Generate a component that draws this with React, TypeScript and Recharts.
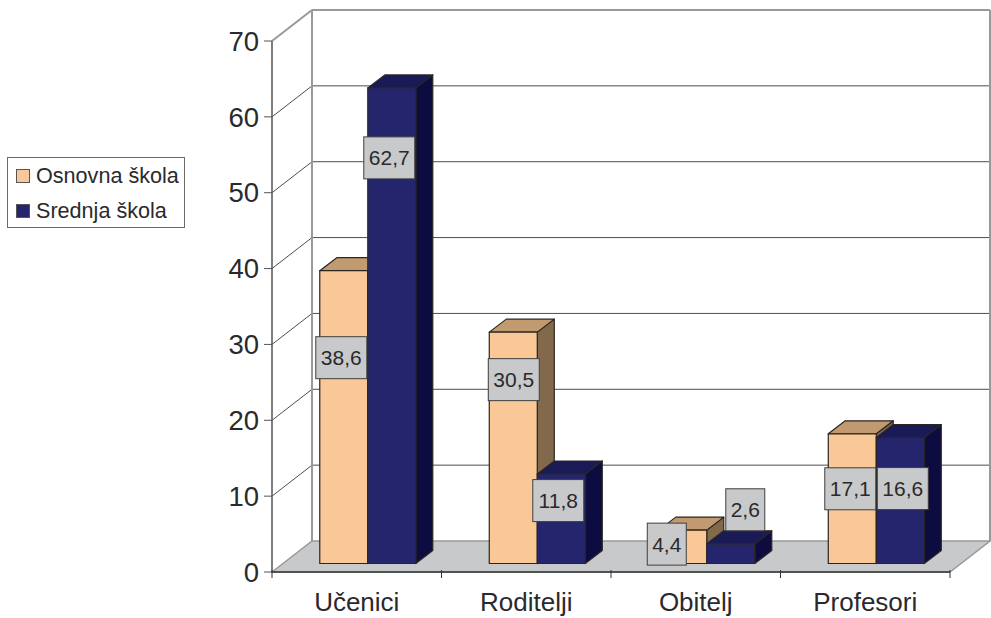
import { Bar, BarChart, CartesianGrid, LabelList, Legend, XAxis, YAxis } from "recharts";

const categories = ["Učenici", "Roditelji", "Obitelj", "Profesori"];
const osnovnaSkola = [38.6, 30.5, 4.4, 17.1];
const srednjaSkola = [62.7, 11.8, 2.6, 16.6];
const valueTicks = [0, 10, 20, 30, 40, 50, 60, 70];

const rows = categories.map((name, i) => ({
  name,
  osnovna: osnovnaSkola[i],
  srednja: srednjaSkola[i],
}));

const WIDTH = 991;
const HEIGHT = 618;
const MARGIN = { top: 41, right: 41, bottom: 0, left: 212 };
const PLOT_WIDTH = WIDTH - MARGIN.left - MARGIN.right - 60;
const FONT = "'Liberation Sans', Arial, sans-serif";
const TEXT = "#2a2a2c";

// depth of the chart box, and where bars stand on the floor
const WALL_DX = 40;
const WALL_DY = -31;
const BAR_DX = 11.5;
const BAR_DY = -8.5;
const SIDE_DX = 17;
const SIDE_DY = -13;

const PEACH = { front: "#f9c896", top: "#c29a6f", side: "#83694c" };
const NAVY = { front: "#25256e", top: "#1a1a56", side: "#0c0c40" };

// hand placed value boxes, measured from the bar's centre and top edge
const osnovnaNudge = [[-2.5, 87], [0.5, 47.5], [-16, 14], [-2, 55]];
const srednjaNudge = [[-2.5, 70], [-3, 26.6], [14.5, -34], [2.5, 51]];

function box3d(colors: typeof PEACH) {
  return (props: any) => {
    const x = props.x + BAR_DX;
    const y = props.y + BAR_DY;
    const { width: w, height: h } = props;
    const line = { stroke: "#2b2622", strokeWidth: 1.2, strokeLinejoin: "round" as const };
    return (
      <g>
        <polygon
          points={`${x + w},${y} ${x + w + SIDE_DX},${y + SIDE_DY} ${x + w + SIDE_DX},${y + h + SIDE_DY} ${x + w},${y + h}`}
          fill={colors.side}
          {...line}
        />
        <polygon
          points={`${x},${y} ${x + SIDE_DX},${y + SIDE_DY} ${x + w + SIDE_DX},${y + SIDE_DY} ${x + w},${y}`}
          fill={colors.top}
          {...line}
        />
        <rect x={x} y={y} width={w} height={h} fill={colors.front} {...line} />
      </g>
    );
  };
}

function valueBox(nudge: number[][]) {
  return (props: any) => {
    const { x, y, width, value, index } = props;
    const text = String(value).replace(".", ",");
    const boxWidth = text.length > 3 ? 51 : 39;
    const cx = x + BAR_DX + width / 2 + nudge[index][0];
    const cy = y + BAR_DY + nudge[index][1];
    return (
      <g>
        <rect
          x={cx - boxWidth / 2}
          y={cy - 21}
          width={boxWidth}
          height={42}
          fill="#c8c9cb"
          stroke="#3f3f3f"
          strokeWidth={1}
        />
        <text x={cx} y={cy + 7.5} textAnchor="middle" fontFamily={FONT} fontSize={21} fill={TEXT}>
          {text}
        </text>
      </g>
    );
  };
}

// one grid level: diagonal on the side wall plus the line across the back wall
function wallLine(props: any) {
  const { x1, x2, y1: y, index } = props;
  const bx = x1 + WALL_DX;
  const by = y + WALL_DY;
  const isFloor = index === 0;
  const isTop = index === valueTicks.length - 1;
  const edge = { stroke: "#98999b", strokeWidth: 2 };
  const thin = { stroke: "#4d4d4f", strokeWidth: 1 };
  if (isFloor) {
    return (
      <polygon
        key="floor"
        points={`${x1},${y} ${bx},${by} ${x2 + WALL_DX},${by} ${x2},${y}`}
        fill="#c8c9cb"
        stroke="#98999b"
        strokeWidth={1.5}
      />
    );
  }
  return (
    <g key={y}>
      <line x1={x1} y1={y} x2={bx} y2={by} {...(isTop ? edge : thin)} />
      <line x1={bx} y1={by} x2={x2 + WALL_DX} y2={by} {...(isTop ? edge : thin)} />
      {isTop && (
        <>
          <line x1={bx} y1={by} x2={bx} y2={by + 531} {...edge} />
          <line x1={x2 + WALL_DX} y1={by} x2={x2 + WALL_DX} y2={by + 531} {...edge} />
        </>
      )}
    </g>
  );
}

function CategoryTick(props: any) {
  const { x, y, payload, index } = props;
  const band = PLOT_WIDTH / categories.length;
  const last = index === categories.length - 1;
  return (
    <g>
      <line x1={x - band / 2} y1={y - 8} x2={x - band / 2} y2={y} stroke="#333" />
      {last && <line x1={x + band / 2} y1={y - 8} x2={x + band / 2} y2={y} stroke="#333" />}
      <text x={x} y={y + 33} textAnchor="middle" fontFamily={FONT} fontSize={26} fill={TEXT}>
        {payload.value}
      </text>
    </g>
  );
}

function ChartLegend() {
  const items = [
    { label: "Osnovna škola", color: PEACH.front },
    { label: "Srednja škola", color: NAVY.front },
  ];
  return (
    <div
      style={{
        width: 178,
        height: 71,
        border: "1px solid #6a6a6a",
        fontFamily: FONT,
        fontSize: 21.6,
        color: TEXT,
        boxSizing: "border-box",
      }}
    >
      {items.map((item) => (
        <div key={item.label} style={{ display: "flex", alignItems: "center", height: 35, whiteSpace: "nowrap" }}>
          <span
            style={{
              width: 12,
              height: 12,
              margin: "0 6px 0 8px",
              background: item.color,
              border: "1px solid #555",
              flex: "none",
            }}
          />
          {item.label}
        </div>
      ))}
    </div>
  );
}

export default function App() {
  return (
    <div style={{ position: "absolute", left: 0, top: 0, width: WIDTH, height: HEIGHT, background: "#fff" }}>
      <BarChart
        width={WIDTH}
        height={HEIGHT}
        data={rows}
        margin={MARGIN}
        barCategoryGap="21.4%"
        barGap={0}
      >
        <CartesianGrid vertical={false} horizontal={wallLine} />
        <XAxis
          dataKey="name"
          tick={CategoryTick}
          tickLine={false}
          axisLine={{ stroke: "#333", strokeWidth: 1.5 }}
          interval={0}
          height={46}
          tickMargin={0}
        />
        <YAxis
          domain={[0, 70]}
          ticks={valueTicks}
          width={60}
          interval={0}
          axisLine={{ stroke: "#555", strokeWidth: 1.5 }}
          tickLine={{ stroke: "#555" }}
          tickSize={8}
          tickMargin={5}
          tick={{ fill: TEXT, fontSize: 27.5, fontFamily: FONT }}
        />
        <Legend
          layout="vertical"
          align="center"
          verticalAlign="middle"
          content={<ChartLegend />}
          wrapperStyle={{ left: 7, top: 157, width: 178, height: 71 }}
        />
        <Bar dataKey="osnovna" name="Osnovna škola" fill={PEACH.front} shape={box3d(PEACH)} isAnimationActive={false}>
          <LabelList dataKey="osnovna" content={valueBox(osnovnaNudge)} />
        </Bar>
        <Bar dataKey="srednja" name="Srednja škola" fill={NAVY.front} shape={box3d(NAVY)} isAnimationActive={false}>
          <LabelList dataKey="srednja" content={valueBox(srednjaNudge)} />
        </Bar>
      </BarChart>
    </div>
  );
}
